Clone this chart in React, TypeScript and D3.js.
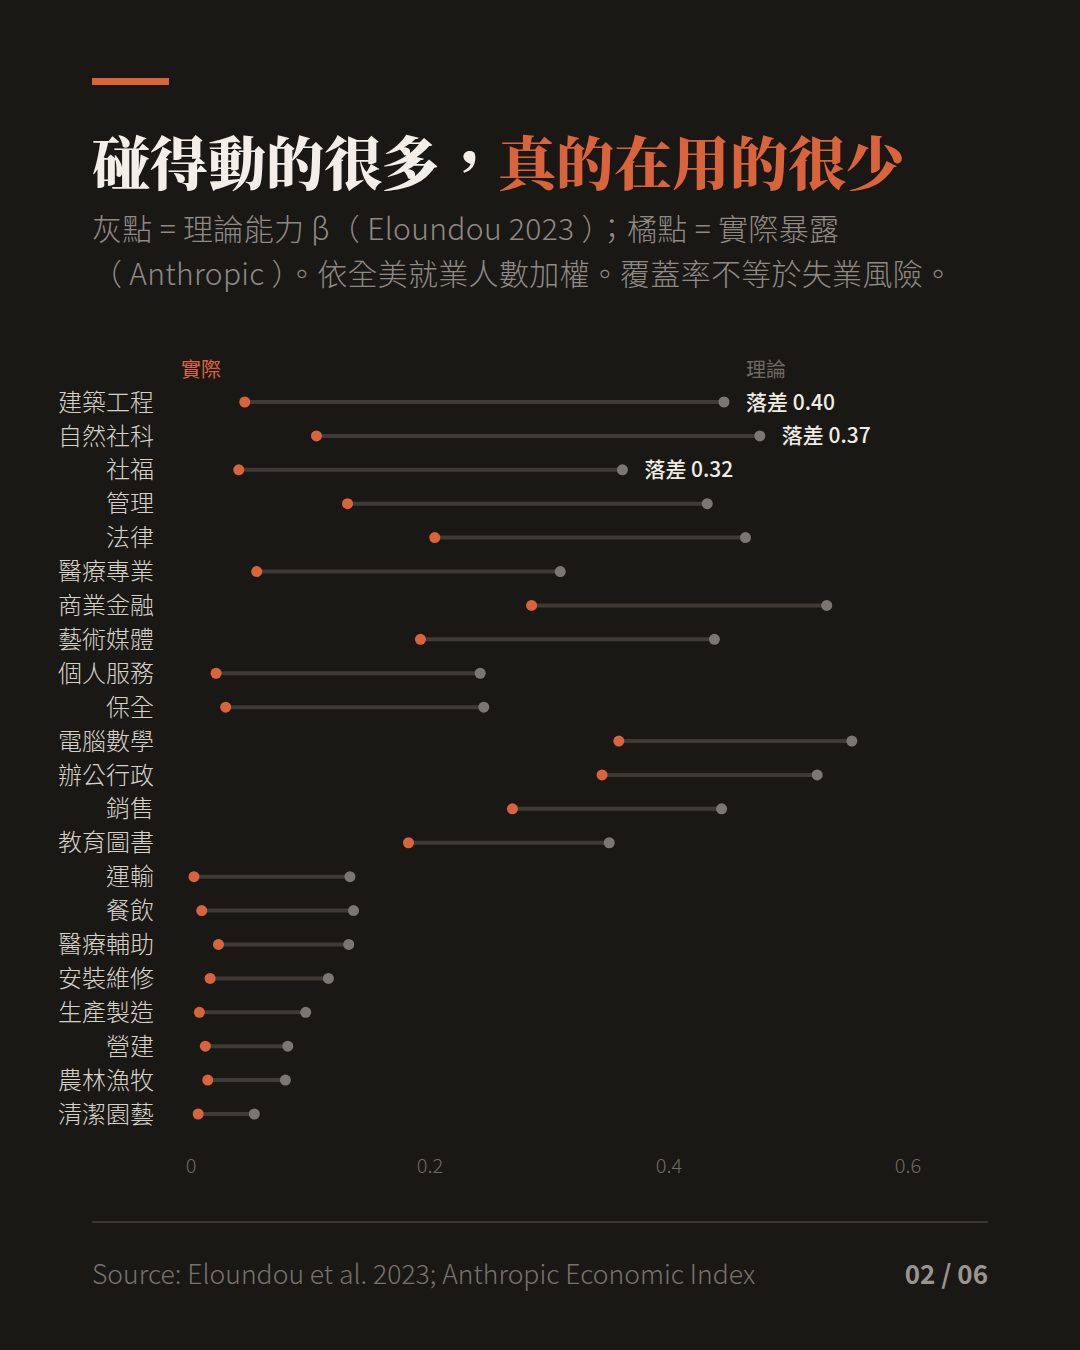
import React from "react";
import * as d3 from "d3";

const categories = ["建築工程","自然社科","社福","管理","法律","醫療專業","商業金融","藝術媒體","個人服務","保全","電腦數學","辦公行政","銷售","教育圖書","運輸","餐飲","醫療輔助","安裝維修","生產製造","營建","農林漁牧","清潔園藝"];
const actual = [0.045,0.105,0.040,0.131,0.204,0.055,0.285,0.192,0.021,0.029,0.358,0.344,0.269,0.182,0.0025,0.009,0.023,0.016,0.007,0.012,0.014,0.006];
const theory = [0.446,0.476,0.361,0.432,0.464,0.309,0.532,0.438,0.242,0.245,0.553,0.524,0.444,0.350,0.133,0.136,0.132,0.115,0.096,0.081,0.079,0.053];
const gapLabels = ["落差 0.40","落差 0.37","落差 0.32"];
const xTicks = [0, 0.2, 0.4, 0.6];

const W = 1080, H = 1350;
const BG = "#1a1815";
const ORANGE = "#d9643c";
const GRAYDOT = "#7a7773";
const SANS = "'Noto Sans CJK TC','Noto Sans',sans-serif";
const SERIF = "'Noto Serif CJK TC','Noto Sans CJK TC',serif";

export default function App() {
  const x = d3.scaleLinear().domain([0, 0.6]).range([191, 908]);
  const y = d3.scalePoint<string>().domain(categories).range([402, 1114]);
  return (
    <svg width={W} height={H} viewBox={`0 0 ${W} ${H}`} style={{ position: "absolute", left: 0, top: 0, background: BG }}>
      <rect width={W} height={H} fill={BG} />
      <rect x={92} y={78} width={77} height={7} fill={ORANGE} />
      <text x={92} y={185} fontFamily={SERIF} fontWeight={900} fontSize={58} fill="#f3efe8">
        碰得動的很多，<tspan fill={ORANGE}>真的在用的很少</tspan>
      </text>
      <text x={92} y={240} fontFamily={SANS} fontWeight={300} fontSize={30} fill="#8f8a84" style={{ whiteSpace: "pre" }} textLength={747} lengthAdjust="spacing">
        {"灰點 = 理論能力 β（ Eloundou 2023 ）；橘點 = 實際暴露"}
      </text>
      <text x={92} y={285} fontFamily={SANS} fontWeight={300} fontSize={30} fill="#8f8a84" style={{ whiteSpace: "pre" }} textLength={861} lengthAdjust="spacing">
        {"（ Anthropic ）。依全美就業人數加權。覆蓋率不等於失業風險。"}
      </text>

      <text x={181} y={377} fontFamily={SANS} fontSize={20} fill={ORANGE}>實際</text>
      <text x={746} y={377} fontFamily={SANS} fontSize={20} fill="#6e6a64">理論</text>

      {categories.map((c, i) => {
        const yy = y(c) as number;
        return (
          <g key={c}>
            <text x={154} y={yy} dy="0.36em" textAnchor="end" fontFamily={SANS} fontWeight={300} fontSize={24} fill="#d6d2ca">{c}</text>
            <line x1={x(actual[i])} x2={x(theory[i])} y1={yy} y2={yy} stroke="#3e3b37" strokeWidth={4} />
            <circle cx={x(theory[i])} cy={yy} r={5.5} fill={GRAYDOT} />
            <circle cx={x(actual[i])} cy={yy} r={5.5} fill={ORANGE} />
            {i < gapLabels.length && (
              <text x={x(theory[i]) + 22} y={yy} dy="0.36em" fontFamily={SANS} fontWeight={500} fontSize={21} fill="#f0ece4">{gapLabels[i]}</text>
            )}
          </g>
        );
      })}

      {xTicks.map((t) => (
        <text key={t} x={x(t)} y={1173} textAnchor="middle" fontFamily={SANS} fontWeight={300} fontSize={20} fill="#6e6a64">{String(t)}</text>
      ))}

      <line x1={92} x2={988} y1={1222} y2={1222} stroke="#3a3733" strokeWidth={2} />
      <text x={92} y={1284} fontFamily={SANS} fontWeight={300} fontSize={26.5} fill="#77726c">Source: Eloundou et al. 2023; Anthropic Economic Index</text>
      <text x={988} y={1284} textAnchor="end" fontFamily={SANS} fontWeight={700} fontSize={26} fill="#9a958f">02 / 06</text>
    </svg>
  );
}
